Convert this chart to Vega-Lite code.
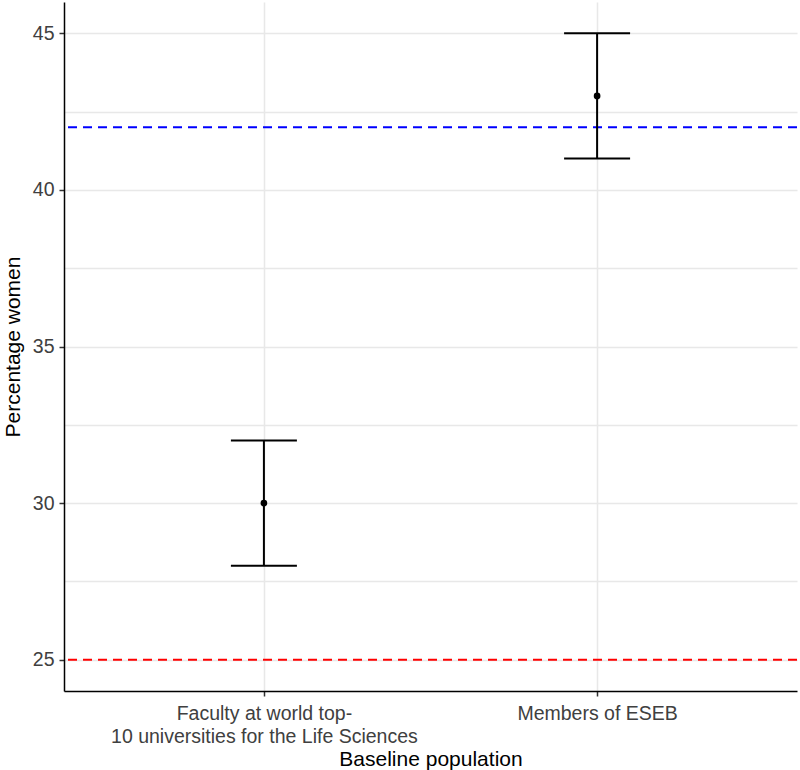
{
  "$schema": "https://vega.github.io/schema/vega-lite/v6.json",
  "width": 733,
  "height": 689,
  "autosize": {"type": "none"},
  "padding": {"left": 64, "top": 2, "right": 3, "bottom": 79},
  "background": "white",
  "config": {
    "view": {"stroke": null},
    "font": "Liberation Sans"
  },
  "datasets": {
    "est": [
      {"population": "Faculty at world top-10 universities for the Life Sciences", "estimate": 30, "lower": 28, "upper": 32},
      {"population": "Members of ESEB", "estimate": 43, "lower": 41, "upper": 45}
    ],
    "ref": [
      {"line": "ESEB", "value": 42, "colour": "#0000ff"},
      {"line": "Faculty", "value": 25, "colour": "#ff0000"}
    ]
  },
  "layer": [
    {
      "data": {"name": "ref"},
      "mark": {"type": "rule", "strokeDash": [9, 6], "strokeWidth": 2},
      "encoding": {
        "y": {"field": "value", "type": "quantitative", "scale": {"domain": [24, 46], "nice": false, "zero": false}},
        "color": {"field": "colour", "type": "nominal", "scale": null, "legend": null}
      }
    },
    {
      "data": {"name": "est"},
      "layer": [
        {
          "mark": {"type": "rule", "color": "black", "strokeWidth": 2},
          "encoding": {
            "y": {"field": "lower", "type": "quantitative"},
            "y2": {"field": "upper"}
          }
        },
        {
          "mark": {"type": "tick", "orient": "horizontal", "color": "black", "opacity": 1, "thickness": 2, "size": 66},
          "encoding": {"y": {"field": "lower", "type": "quantitative"}}
        },
        {
          "mark": {"type": "tick", "orient": "horizontal", "color": "black", "opacity": 1, "thickness": 2, "size": 66},
          "encoding": {"y": {"field": "upper", "type": "quantitative"}}
        },
        {
          "mark": {"type": "point", "filled": true, "color": "black", "size": 45, "opacity": 1},
          "encoding": {"y": {"field": "estimate", "type": "quantitative"}}
        }
      ],
      "encoding": {
        "x": {
          "field": "population",
          "type": "nominal",
          "sort": null,
          "scale": {"type": "point", "padding": 0.6},
          "axis": {
            "title": "Baseline population",
            "labelAngle": 0,
            "labelLimit": 0,
            "labelExpr": "datum.label == 'Faculty at world top-10 universities for the Life Sciences' ? ['Faculty at world top-', '10 universities for the Life Sciences'] : datum.label",
            "labelFontSize": 19.5,
            "labelColor": "#404040",
            "labelLineHeight": 23,
            "labelPadding": 8,
            "labelBaseline": "top",
            "tickSize": 5,
            "tickColor": "#333333",
            "tickWidth": 1.5,
            "domainColor": "black",
            "domainWidth": 1.5,
            "grid": true,
            "gridColor": "#e8e8e8",
            "gridWidth": 1.5,
            "titleFontSize": 21,
            "titleFontWeight": "normal",
            "titleColor": "black",
            "titlePadding": 3
          }
        },
        "y": {
          "type": "quantitative",
          "scale": {"domain": [24, 46], "nice": false, "zero": false},
          "axis": {
            "title": "Percentage women",
            "values": [25, 27.5, 30, 32.5, 35, 37.5, 40, 42.5, 45],
            "labelExpr": "datum.value % 5 == 0 ? datum.label : ''",
            "labelFontSize": 19.5,
            "labelColor": "#404040",
            "labelPadding": 5,
            "tickSize": 5,
            "tickColor": "#333333",
            "tickWidth": 1.5,
            "tickOpacity": {"condition": {"test": "datum.value % 5 != 0", "value": 0}, "value": 1},
            "domainColor": "black",
            "domainWidth": 1.5,
            "grid": true,
            "gridColor": "#e8e8e8",
            "gridWidth": 1.3,
            "titleFontSize": 21,
            "titleFontWeight": "normal",
            "titleColor": "black",
            "titlePadding": 9
          }
        }
      }
    }
  ],
  "resolve": {"scale": {"y": "shared"}}
}
